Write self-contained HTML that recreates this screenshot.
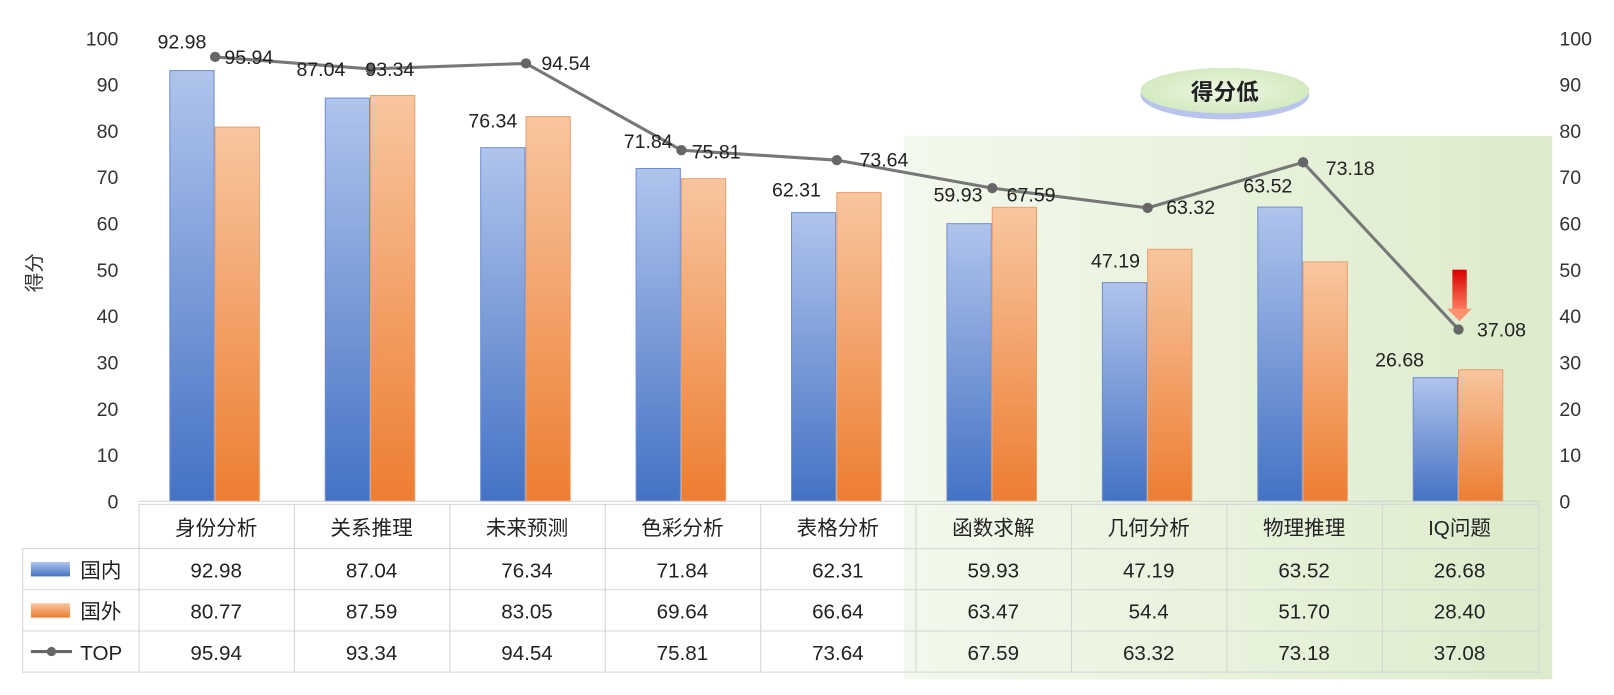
<!DOCTYPE html>
<html><head><meta charset="utf-8"><style>
body{margin:0;background:#fff;}
svg text{font-family:"Liberation Sans","Noto Sans CJK SC",sans-serif;}
</style></head><body>
<svg width="1614" height="690" xmlns="http://www.w3.org/2000/svg">
<defs>
<linearGradient id="gp" x1="0" y1="0" x2="1" y2="0"><stop offset="0" stop-color="#f3f8ec"/><stop offset="0.6" stop-color="#e6f1d9"/><stop offset="1" stop-color="#dcebcb"/></linearGradient>
<linearGradient id="gb" x1="0" y1="0" x2="0" y2="1"><stop offset="0" stop-color="#b0c4ec"/><stop offset="1" stop-color="#4472c4"/></linearGradient>
<linearGradient id="go" x1="0" y1="0" x2="0" y2="1"><stop offset="0" stop-color="#f8c6a0"/><stop offset="1" stop-color="#ed7d31"/></linearGradient>
<linearGradient id="gr" x1="0" y1="0" x2="0" y2="1"><stop offset="0" stop-color="#d90000"/><stop offset="1" stop-color="#ff8060"/></linearGradient>
<radialGradient id="ge"><stop offset="0" stop-color="#eef7e4"/><stop offset="1" stop-color="#d3eac0"/></radialGradient>
</defs>
<g transform="scale(1.0293)">
<rect x="878" y="132" width="630" height="528" fill="url(#gp)"/>
<ellipse cx="1190" cy="92" rx="82" ry="24" fill="#b9c4ee"/>
<ellipse cx="1190" cy="88" rx="82" ry="22" fill="url(#ge)"/>
<text x="1190" y="97" font-size="22" font-weight="bold" text-anchor="middle" fill="#222">得分低</text>
<g font-size="19" fill="#333" text-anchor="end">
<text x="115" y="44">100</text><text x="115" y="89">90</text><text x="115" y="134">80</text><text x="115" y="179">70</text><text x="115" y="224">60</text><text x="115" y="269">50</text><text x="115" y="314">40</text><text x="115" y="359">30</text><text x="115" y="404">20</text><text x="115" y="449">10</text><text x="115" y="494">0</text>
</g>
<g font-size="19" fill="#333" text-anchor="start">
<text x="1515" y="44">100</text><text x="1515" y="89">90</text><text x="1515" y="134">80</text><text x="1515" y="179">70</text><text x="1515" y="224">60</text><text x="1515" y="269">50</text><text x="1515" y="314">40</text><text x="1515" y="359">30</text><text x="1515" y="404">20</text><text x="1515" y="449">10</text><text x="1515" y="494">0</text>
</g>
<text transform="translate(40,265) rotate(-90)" font-size="19" text-anchor="middle" fill="#333">得分</text>
<g stroke-width="1">
<rect x="165" y="68.6" width="43" height="418.4" fill="url(#gb)" stroke="#6f8fd0"/><rect x="209" y="123.5" width="43" height="363.5" fill="url(#go)" stroke="#e8a070"/>
<rect x="316" y="95.3" width="43" height="391.7" fill="url(#gb)" stroke="#6f8fd0"/><rect x="360" y="92.8" width="43" height="394.2" fill="url(#go)" stroke="#e8a070"/>
<rect x="467" y="143.5" width="43" height="343.5" fill="url(#gb)" stroke="#6f8fd0"/><rect x="511" y="113.3" width="43" height="373.7" fill="url(#go)" stroke="#e8a070"/>
<rect x="618" y="163.7" width="43" height="323.3" fill="url(#gb)" stroke="#6f8fd0"/><rect x="662" y="173.6" width="43" height="313.4" fill="url(#go)" stroke="#e8a070"/>
<rect x="769" y="206.6" width="43" height="280.4" fill="url(#gb)" stroke="#6f8fd0"/><rect x="813" y="187.1" width="43" height="299.9" fill="url(#go)" stroke="#e8a070"/>
<rect x="920" y="217.3" width="43" height="269.7" fill="url(#gb)" stroke="#6f8fd0"/><rect x="964" y="201.4" width="43" height="285.6" fill="url(#go)" stroke="#e8a070"/>
<rect x="1071" y="274.6" width="43" height="212.4" fill="url(#gb)" stroke="#6f8fd0"/><rect x="1115" y="242.2" width="43" height="244.8" fill="url(#go)" stroke="#e8a070"/>
<rect x="1222" y="201.2" width="43" height="285.8" fill="url(#gb)" stroke="#6f8fd0"/><rect x="1266" y="254.4" width="43" height="232.6" fill="url(#go)" stroke="#e8a070"/>
<rect x="1373" y="366.9" width="43" height="120.1" fill="url(#gb)" stroke="#6f8fd0"/><rect x="1417" y="359.2" width="43" height="127.8" fill="url(#go)" stroke="#e8a070"/>
</g>
<line x1="135" y1="487" x2="1495" y2="487" stroke="#d0d0d0"/>
<polyline points="209,55.3 360,67 511,61.6 662,145.9 813,155.6 964,182.8 1115,202 1266,157.7 1417,320.1" fill="none" stroke="#777" stroke-width="3"/>
<g fill="#666"><circle cx="209" cy="55.3" r="5"/><circle cx="360" cy="67" r="5"/><circle cx="511" cy="61.6" r="5"/><circle cx="662" cy="145.9" r="5"/><circle cx="813" cy="155.6" r="5"/><circle cx="964" cy="182.8" r="5"/><circle cx="1115" cy="202" r="5"/><circle cx="1266" cy="157.7" r="5"/><circle cx="1417" cy="320.1" r="5"/></g>
<rect x="1411" y="262" width="14" height="40" fill="url(#gr)"/><polygon points="1406,300 1430,300 1418,312" fill="#ff9070"/>
<g font-size="19" fill="#222">
<text x="153" y="47">92.98</text><text x="218" y="62">95.94</text>
<text x="288" y="74">87.04</text><text x="355" y="74">93.34</text>
<text x="526" y="68">94.54</text>
<text x="455" y="124">76.34</text>
<text x="606" y="144">71.84</text><text x="672" y="154">75.81</text>
<text x="835" y="162">73.64</text>
<text x="750" y="191">62.31</text>
<text x="907" y="196">59.93</text><text x="978" y="196">67.59</text>
<text x="1133" y="208">63.32</text>
<text x="1060" y="260">47.19</text>
<text x="1208" y="187">63.52</text><text x="1288" y="170">73.18</text>
<text x="1435" y="327">37.08</text>
<text x="1336" y="356">26.68</text>
</g>
<g stroke="#d4d4d4" fill="none">
<rect x="135" y="490" width="1360" height="163"/>
<rect x="22" y="533" width="113" height="120"/>
<line x1="22" y1="573" x2="1495" y2="573"/><line x1="22" y1="613" x2="1495" y2="613"/><line x1="135" y1="533" x2="1495" y2="533"/>
<line x1="286" y1="490" x2="286" y2="653"/><line x1="437" y1="490" x2="437" y2="653"/><line x1="588" y1="490" x2="588" y2="653"/><line x1="739" y1="490" x2="739" y2="653"/><line x1="890" y1="490" x2="890" y2="653"/><line x1="1041" y1="490" x2="1041" y2="653"/><line x1="1192" y1="490" x2="1192" y2="653"/><line x1="1343" y1="490" x2="1343" y2="653"/>
</g>
<rect x="30" y="546" width="38" height="14" fill="url(#gb)"/>
<rect x="30" y="586" width="38" height="14" fill="url(#go)"/>
<line x1="30" y1="633" x2="70" y2="633" stroke="#666" stroke-width="3"/><circle cx="50" cy="633" r="4.5" fill="#666"/>
<g font-size="20" fill="#222">
<text x="78" y="561">国内</text><text x="78" y="601">国外</text><text x="78" y="641">TOP</text>
</g>
<g font-size="20" fill="#222" text-anchor="middle">
<text x="210" y="520">身份分析</text><text x="361" y="520">关系推理</text><text x="512" y="520">未来预测</text><text x="663" y="520">色彩分析</text><text x="814" y="520">表格分析</text><text x="965" y="520">函数求解</text><text x="1116" y="520">几何分析</text><text x="1267" y="520">物理推理</text><text x="1418" y="520">IQ问题</text>
<text x="210" y="561">92.98</text><text x="361" y="561">87.04</text><text x="512" y="561">76.34</text><text x="663" y="561">71.84</text><text x="814" y="561">62.31</text><text x="965" y="561">59.93</text><text x="1116" y="561">47.19</text><text x="1267" y="561">63.52</text><text x="1418" y="561">26.68</text>
<text x="210" y="601">80.77</text><text x="361" y="601">87.59</text><text x="512" y="601">83.05</text><text x="663" y="601">69.64</text><text x="814" y="601">66.64</text><text x="965" y="601">63.47</text><text x="1116" y="601">54.4</text><text x="1267" y="601">51.70</text><text x="1418" y="601">28.40</text>
<text x="210" y="641">95.94</text><text x="361" y="641">93.34</text><text x="512" y="641">94.54</text><text x="663" y="641">75.81</text><text x="814" y="641">73.64</text><text x="965" y="641">67.59</text><text x="1116" y="641">63.32</text><text x="1267" y="641">73.18</text><text x="1418" y="641">37.08</text>
</g>
</g>
</svg>
</body></html>
